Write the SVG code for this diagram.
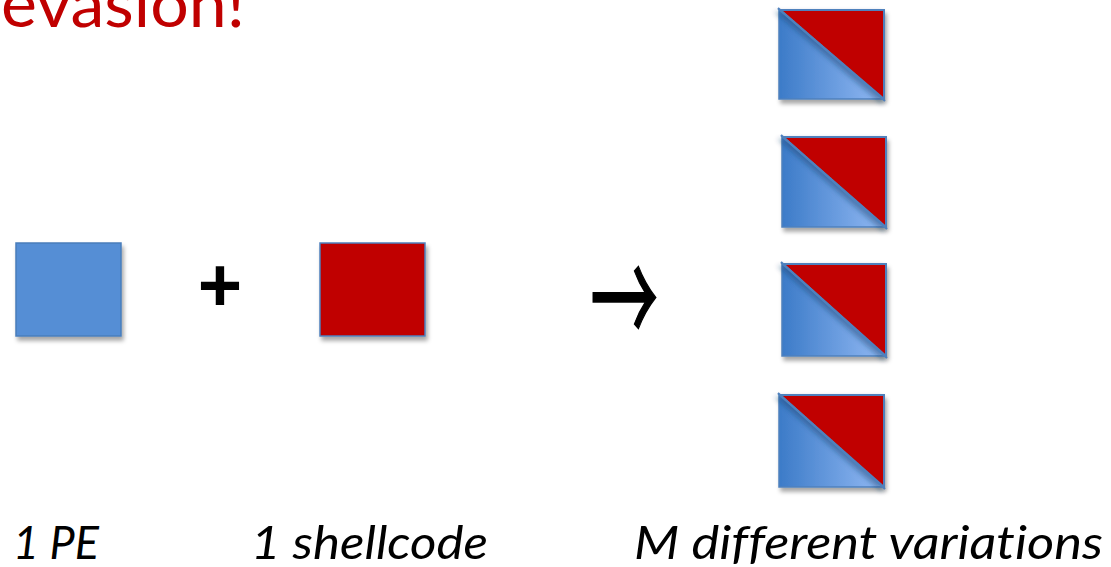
<svg xmlns="http://www.w3.org/2000/svg" width="1111" height="567" viewBox="0 0 1111 567">
  <style>
    .label { font-family: Lato, "Open Sans", "Liberation Sans", sans-serif; font-style: italic; font-size: 46px; fill: #000; font-variant-ligatures: none; }
    .title { font-family: Lato, "Open Sans", "Liberation Sans", sans-serif; font-size: 66px; fill: #C00000; }
    .pe { fill: #558ED5; stroke: #4A7EBB; stroke-width: 1.5; }
    .sc { fill: #C00000; stroke: #4F81BD; stroke-width: 1.5; }
    .half { fill: url(#blueFade); stroke: #4F81BD; stroke-width: 1.5; }
    .tri { fill: #C00000; stroke: #4F81BD; stroke-width: 2; stroke-linejoin: miter; }
  </style>
  <defs>
    <filter id="shadow" x="-20%" y="-20%" width="150%" height="150%">
      <feDropShadow dx="2" dy="4" stdDeviation="2.2" flood-color="#000" flood-opacity="0.35"/>
    </filter>
    <filter id="triShadow" x="-20%" y="-20%" width="150%" height="150%">
      <feDropShadow dx="-3" dy="3" stdDeviation="2.5" flood-color="#1F3F6F" flood-opacity="0.45"/>
    </filter>
    <linearGradient id="blueFade" x1="0" y1="0" x2="1" y2="0">
      <stop offset="0" stop-color="#3C7BC8"/>
      <stop offset="1" stop-color="#93BAF4"/>
    </linearGradient>
  </defs>

  <!-- heading fragment -->
  <text class="title" x="1" y="27" textLength="244" lengthAdjust="spacingAndGlyphs">evasion!</text>

  <!-- single PE file -->
  <g id="pe">
    <rect class="pe" x="16" y="243" width="105" height="93" filter="url(#shadow)"/>
  </g>

  <text id="plus" x="220" y="311" text-anchor="middle" font-family="'Liberation Sans', Arial, sans-serif" font-weight="bold" font-size="76px" fill="#000">+</text>

  <!-- single shellcode -->
  <g id="shellcode">
    <rect class="sc" x="320" y="243" width="105" height="93" filter="url(#shadow)"/>
  </g>

  <text id="arrow" x="624" y="330" text-anchor="middle" transform="translate(623.5,298.5) scale(0.68,1.33) translate(-623,-293)" font-family="'Noto Sans CJK JP', 'Noto Sans CJK SC', sans-serif" font-size="100px" fill="#000" stroke="#000" stroke-width="1.3">→</text>

  <!-- generated variations: PE body with shellcode half laid over the diagonal -->
  <g id="variation-1">
    <rect class="half" x="779" y="10" width="105" height="89" filter="url(#shadow)"/>
    <polygon class="tri" points="780,10 884,10 884,99" filter="url(#triShadow)"/>
    <line x1="778" y1="8" x2="885" y2="101" stroke="#4F81BD" stroke-width="2"/>
  </g>
  <g id="variation-2">
    <rect class="half" x="782" y="137" width="104" height="90" filter="url(#shadow)"/>
    <polygon class="tri" points="783,137 886,137 886,227" filter="url(#triShadow)"/>
    <line x1="781" y1="135" x2="887" y2="229" stroke="#4F81BD" stroke-width="2"/>
  </g>
  <g id="variation-3">
    <rect class="half" x="782" y="264" width="104" height="92" filter="url(#shadow)"/>
    <polygon class="tri" points="783,264 886,264 886,356" filter="url(#triShadow)"/>
    <line x1="781" y1="262" x2="887" y2="358" stroke="#4F81BD" stroke-width="2"/>
  </g>
  <g id="variation-4">
    <rect class="half" x="779" y="395" width="105" height="92" filter="url(#shadow)"/>
    <polygon class="tri" points="780,395 884,395 884,487" filter="url(#triShadow)"/>
    <line x1="778" y1="393" x2="885" y2="489" stroke="#4F81BD" stroke-width="2"/>
  </g>

  <!-- captions -->
  <text class="label" x="13" y="559" textLength="86" lengthAdjust="spacingAndGlyphs">1 PE</text>
  <text class="label" x="251" y="559" textLength="237" lengthAdjust="spacingAndGlyphs">1 shellcode</text>
  <text class="label" x="634" y="559" textLength="469" lengthAdjust="spacingAndGlyphs">M different variations</text>
</svg>
